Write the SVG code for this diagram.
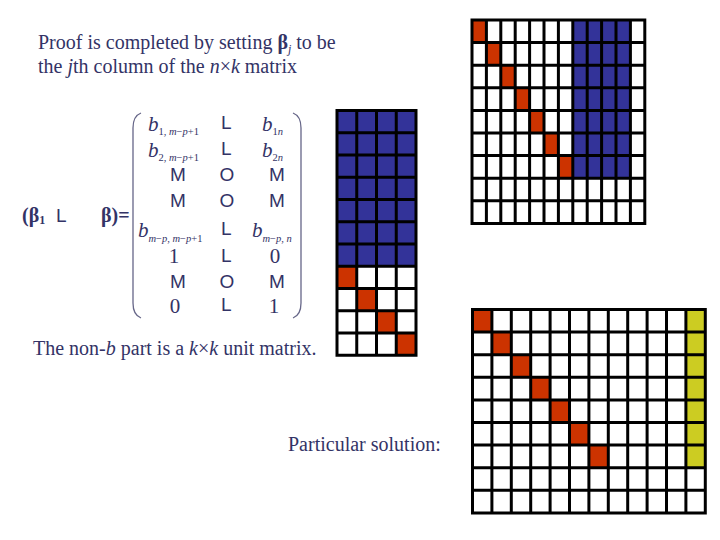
<svg xmlns="http://www.w3.org/2000/svg" width="720" height="540" viewBox="0 0 720 540">
<style>
.t{font-family:"Liberation Serif","Times New Roman",serif;font-size:20px;fill:#333366}
.s{font-family:"Liberation Sans",Arial,sans-serif;font-size:19px;fill:#333366}
.m{font-family:"Liberation Serif","Times New Roman",serif;font-size:21px;fill:#333366}
.sub{font-size:12px}
.ms{font-size:10.5px}
.i{font-style:italic}
.b{font-weight:bold}
.g{fill:none;stroke:#000;stroke-width:3;stroke-linecap:square}
.blue{fill:#333399}
.red{fill:#CC3300}
.yel{fill:#CCCC22}
.par{fill:none;stroke:#666688;stroke-width:1.3}
</style>
<rect width="720" height="540" fill="#fff"/>

<g id="text-top">
<text class="t" x="38" y="49">Proof is completed by setting <tspan class="b">β</tspan><tspan class="i sub" dy="4">j</tspan><tspan dy="-4">  to be</tspan></text>
<text class="t" x="38" y="73">the <tspan class="i">j</tspan>th column of the <tspan class="i">n</tspan>×<tspan class="i">k</tspan> matrix</text>
</g>

<g id="equation">
<text class="t b" x="22" y="222">(β<tspan class="sub" dy="2">1</tspan></text>
<text class="s" x="56" y="222">L</text>
<text class="t b" x="101" y="222">β)=</text>
<path class="par" d="M141,113 Q133,116 133,128 L133,303 Q133,315 141,318"/>
<path class="par" d="M293,113 Q301,116 301,128 L301,303 Q301,315 293,318"/>
<g id="matrix-entries">
<text class="m" x="148" y="131"><tspan class="i">b</tspan><tspan class="ms" dy="4">1, <tspan class="i">m</tspan>−<tspan class="i">p</tspan>+1</tspan></text>
<text class="s" x="221" y="129">L</text>
<text class="m" x="262" y="131"><tspan class="i">b</tspan><tspan class="ms" dy="4">1<tspan class="i">n</tspan></tspan></text>

<text class="m" x="148" y="157"><tspan class="i">b</tspan><tspan class="ms" dy="4">2, <tspan class="i">m</tspan>−<tspan class="i">p</tspan>+1</tspan></text>
<text class="s" x="221" y="155">L</text>
<text class="m" x="262" y="157"><tspan class="i">b</tspan><tspan class="ms" dy="4">2<tspan class="i">n</tspan></tspan></text>

<text class="s" x="178" y="181" text-anchor="middle">M</text>
<text class="s" x="227" y="181" text-anchor="middle">O</text>
<text class="s" x="277" y="181" text-anchor="middle">M</text>

<text class="s" x="178" y="207" text-anchor="middle">M</text>
<text class="s" x="227" y="207" text-anchor="middle">O</text>
<text class="s" x="277" y="207" text-anchor="middle">M</text>

<text class="m" x="138" y="237"><tspan class="i">b</tspan><tspan class="ms" dy="5"><tspan class="i">m</tspan>−<tspan class="i">p</tspan>, <tspan class="i">m</tspan>−<tspan class="i">p</tspan>+1</tspan></text>
<text class="s" x="221" y="235">L</text>
<text class="m" x="252" y="237"><tspan class="i">b</tspan><tspan class="ms" dy="5"><tspan class="i">m</tspan>−<tspan class="i">p</tspan>, <tspan class="i">n</tspan></tspan></text>

<text class="m" x="174" y="263" text-anchor="middle">1</text>
<text class="s" x="221" y="262">L</text>
<text class="m" x="275" y="263" text-anchor="middle">0</text>

<text class="s" x="178" y="288" text-anchor="middle">M</text>
<text class="s" x="227" y="288" text-anchor="middle">O</text>
<text class="s" x="277" y="288" text-anchor="middle">M</text>

<text class="m" x="175" y="313" text-anchor="middle">0</text>
<text class="s" x="221" y="311">L</text>
<text class="m" x="274" y="313" text-anchor="middle">1</text>
</g>
</g>

<g id="grid-middle">
<rect class="blue" x="337" y="110.5" width="79" height="155.75"/>
<rect class="red" x="337" y="266.25" width="19.75" height="22.25"/>
<rect class="red" x="356.75" y="288.5" width="19.75" height="22.25"/>
<rect class="red" x="376.5" y="310.75" width="19.75" height="22.25"/>
<rect class="red" x="396.25" y="333" width="19.75" height="22.25"/>
<path class="g" d="M337,110.5H416V355.25H337Z M356.75,110.5V355.25 M376.5,110.5V355.25 M396.25,110.5V355.25 M337,132.75H416 M337,155H416 M337,177.25H416 M337,199.5H416 M337,221.75H416 M337,244H416 M337,266.25H416 M337,288.5H416 M337,310.75H416 M337,333H416"/>
</g>

<g id="grid-top">
<rect class="blue" x="572.8" y="20" width="57.6" height="158.2"/>
<rect class="red" x="472" y="20" width="14.4" height="22.6"/>
<rect class="red" x="486.4" y="42.6" width="14.4" height="22.6"/>
<rect class="red" x="500.8" y="65.2" width="14.4" height="22.6"/>
<rect class="red" x="515.2" y="87.8" width="14.4" height="22.6"/>
<rect class="red" x="529.6" y="110.4" width="14.4" height="22.6"/>
<rect class="red" x="544" y="133" width="14.4" height="22.6"/>
<rect class="red" x="558.4" y="155.6" width="14.4" height="22.6"/>
<path class="g" d="M472,20H644.8V223.4H472Z M486.4,20V223.4 M500.8,20V223.4 M515.2,20V223.4 M529.6,20V223.4 M544,20V223.4 M558.4,20V223.4 M572.8,20V223.4 M587.2,20V223.4 M601.6,20V223.4 M616,20V223.4 M630.4,20V223.4 M472,42.6H644.8 M472,65.2H644.8 M472,87.8H644.8 M472,110.4H644.8 M472,133H644.8 M472,155.6H644.8 M472,178.2H644.8 M472,200.8H644.8"/>
</g>

<g id="text-bottom">
<text class="t" x="33" y="355">The non-<tspan class="i">b</tspan> part is a <tspan class="i">k</tspan>×<tspan class="i">k</tspan> unit matrix.</text>
<text class="t" x="288" y="451">Particular solution:</text>
</g>

<g id="grid-bottom">
<rect class="yel" x="685.9" y="309.5" width="19.4" height="158.2"/>
<rect class="red" x="472.5" y="309.5" width="19.4" height="22.6"/>
<rect class="red" x="491.9" y="332.1" width="19.4" height="22.6"/>
<rect class="red" x="511.3" y="354.7" width="19.4" height="22.6"/>
<rect class="red" x="530.7" y="377.3" width="19.4" height="22.6"/>
<rect class="red" x="550.1" y="399.9" width="19.4" height="22.6"/>
<rect class="red" x="569.5" y="422.5" width="19.4" height="22.6"/>
<rect class="red" x="588.9" y="445.1" width="19.4" height="22.6"/>
<path class="g" d="M472.5,309.5H705.3V512.9H472.5Z M491.9,309.5V512.9 M511.3,309.5V512.9 M530.7,309.5V512.9 M550.1,309.5V512.9 M569.5,309.5V512.9 M588.9,309.5V512.9 M608.3,309.5V512.9 M627.7,309.5V512.9 M647.1,309.5V512.9 M666.5,309.5V512.9 M685.9,309.5V512.9 M472.5,332.1H705.3 M472.5,354.7H705.3 M472.5,377.3H705.3 M472.5,399.9H705.3 M472.5,422.5H705.3 M472.5,445.1H705.3 M472.5,467.7H705.3 M472.5,490.3H705.3"/>
</g>
</svg>
